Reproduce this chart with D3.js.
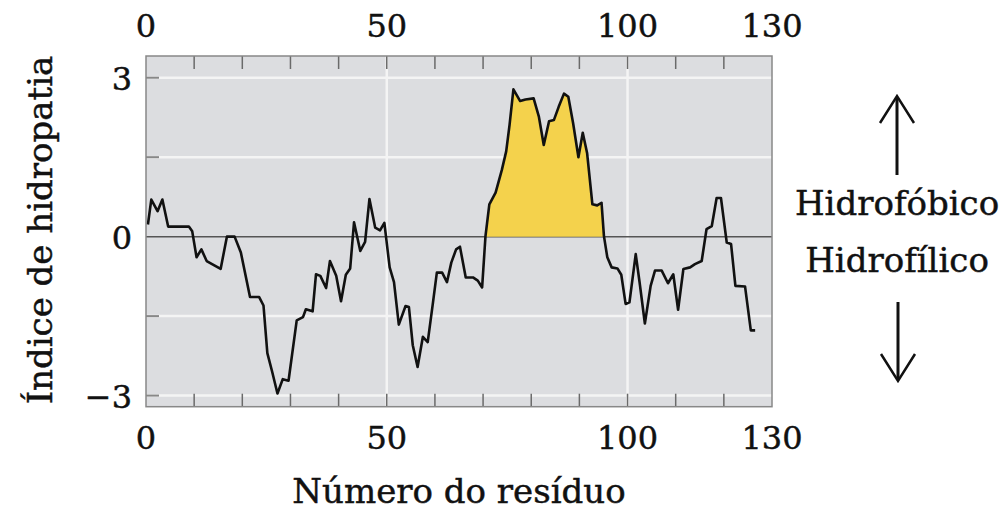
<!DOCTYPE html>
<html><head><meta charset="utf-8">
<script src="https://cdn.jsdelivr.net/npm/d3@7"></script>
<style>body{margin:0;background:#fff}svg{display:block}text{font-family:"DejaVu Serif",serif;fill:#111;stroke:#111;stroke-width:0.45}</style>
</head><body>
<script>
const residue = [0.4,1.1,2.4,3.4,4.6,8.9,9.6,10.5,11.5,12.6,15.5,16.8,18.4,19.7,21.6,23.5,24.4,25.2,26.2,27.3,28.4,29.6,31.3,32.6,33.2,34.6,35.3,36.2,37.4,38.2,39.5,40.5,41.5,42.4,43.2,44.5,45.5,46.4,47.6,48.6,49.5,50.6,51.5,52.5,53.9,54.6,55.4,56.4,57.5,58.5,59.6,60.4,61.5,62.5,63.4,64.4,65.2,66.4,67.9,68.9,69.8,70.5,71.3,72.6,73.9,74.8,75.5,76.3,77.7,78.8,80.5,81.6,82.6,83.7,84.7,85.7,86.8,87.7,88.7,89.8,90.7,91.6,92.7,93.7,94.6,95.1,95.8,96.7,97.9,98.7,99.6,100.4,101.7,102.5,103.6,104.8,105.7,107.1,108.4,109.5,110.5,111.6,113.0,114.0,115.4,116.4,117.5,118.5,119.4,120.6,121.5,122.4,124.4,125.6,126.5];
const hydropathy = [0.23,0.70,0.48,0.70,0.19,0.19,0.10,-0.39,-0.24,-0.46,-0.61,0,0,-0.30,-1.14,-1.14,-1.30,-2.2,-2.55,-2.96,-2.69,-2.72,-1.58,-1.52,-1.37,-1.41,-0.71,-0.74,-0.97,-0.46,-0.74,-1.22,-0.72,-0.60,0.27,-0.27,-0.10,0.71,0.17,0.12,0.26,-0.58,-0.86,-1.66,-1.31,-1.33,-2.05,-2.46,-1.89,-1.99,-1.24,-0.68,-0.68,-0.86,-0.49,-0.24,-0.19,-0.77,-0.77,-0.83,-0.96,0.01,0.61,0.83,1.26,1.61,2.11,2.78,2.56,2.59,2.61,2.26,1.73,2.18,2.20,2.45,2.70,2.64,2.14,1.50,1.96,1.58,0.61,0.59,0.64,0.01,-0.39,-0.58,-0.60,-0.72,-1.27,-1.24,-0.33,-0.86,-1.64,-0.93,-0.64,-0.64,-0.88,-0.71,-1.38,-0.61,-0.58,-0.52,-0.46,0.14,0.20,0.73,0.73,-0.11,-0.14,-0.93,-0.94,-1.77,-1.77];
const xTickLabels = [0,50,100,130];
const xMinorTicks = [10,20,30,40,50,60,70,80,90,100,110,120];
const yTickLabels = [3,0,-3];
const yGrid = [3,1.5,-1.5,-3];
const xGrid = [50,100];
const helixStart = 70.5, helixEnd = 95.1;
const labels = {x:"Número do resíduo", y:"Índice de hidropatia", up:"Hidrofóbico", down:"Hidrofílico"};

const W=1005,H=511;
const L=146,R=772,T=56,B=406.7;
const x=d3.scaleLinear().domain([0,130]).range([L,R]);
const y=d3.scaleLinear().domain([-3.21,3.41]).range([B,T]);
const svg=d3.select("body").append("svg").attr("width",W).attr("height",H);
const data=residue.map((r,i)=>({r,v:hydropathy[i]}));

svg.append("rect").attr("x",L).attr("y",T).attr("width",R-L).attr("height",B-T).attr("fill","#dcdde0");
svg.selectAll(".hg").data(yGrid).join("line").attr("x1",L).attr("x2",R).attr("y1",d=>y(d)).attr("y2",d=>y(d)).attr("stroke","#f4f4f4").attr("stroke-width",2.5);
svg.selectAll(".vg").data(xGrid).join("line").attr("y1",T).attr("y2",B).attr("x1",d=>x(d)).attr("x2",d=>x(d)).attr("stroke","#f4f4f4").attr("stroke-width",2.5);
svg.append("line").attr("x1",L).attr("x2",R).attr("y1",y(0)).attr("y2",y(0)).attr("stroke","#555").attr("stroke-width",1.5);
const fillData=data.filter(d=>d.r>=helixStart&&d.r<=helixEnd);
svg.append("path").datum(fillData).attr("fill","#f4d24c")
 .attr("d",d3.area().x(d=>x(d.r)).y0(y(0)).y1(d=>y(Math.max(0,d.v))));
svg.append("path").datum(data).attr("fill","none").attr("stroke","#111").attr("stroke-width",2.6).attr("stroke-linejoin","round")
 .attr("d",d3.line().x(d=>x(d.r)).y(d=>y(d.v)));
svg.selectAll(".tt").data(xMinorTicks).join("line").attr("x1",d=>x(d)).attr("x2",d=>x(d)).attr("y1",T).attr("y2",T+13).attr("stroke","#6a6a6a").attr("stroke-width",1.5);
svg.selectAll(".bt").data(xMinorTicks).join("line").attr("x1",d=>x(d)).attr("x2",d=>x(d)).attr("y1",B).attr("y2",B-13).attr("stroke","#6a6a6a").attr("stroke-width",1.5);
svg.selectAll(".lt").data(yGrid).join("line").attr("x1",L).attr("x2",L+13).attr("y1",d=>y(d)).attr("y2",d=>y(d)).attr("stroke","#888").attr("stroke-width",2);
svg.append("rect").attr("x",L).attr("y",T).attr("width",R-L).attr("height",B-T).attr("fill","none").attr("stroke","#888").attr("stroke-width",1.5);
const fs=32, ts=34;
svg.selectAll(".xl1").data(xTickLabels).join("text").attr("x",d=>x(d)).attr("y",37).attr("text-anchor","middle").attr("font-size",fs).text(d=>d);
svg.selectAll(".xl2").data(xTickLabels).join("text").attr("x",d=>x(d)).attr("y",449).attr("text-anchor","middle").attr("font-size",fs).text(d=>d);
svg.selectAll(".yl").data(yTickLabels).join("text").attr("x",132).attr("y",d=>y(d)+12).attr("text-anchor","end").attr("font-size",fs).text(d=>d<0?"\u2212"+(-d):d);
svg.append("text").attr("x",459).attr("y",503).attr("text-anchor","middle").attr("font-size",ts).text(labels.x);
svg.append("text").attr("transform","translate(52,230) rotate(-90)").attr("text-anchor","middle").attr("font-size",ts).text(labels.y);
const ax=897;
svg.append("text").attr("x",ax).attr("y",215).attr("text-anchor","middle").attr("font-size",ts).text(labels.up);
svg.append("text").attr("x",ax).attr("y",272).attr("text-anchor","middle").attr("font-size",ts).text(labels.down);
const arr=svg.append("g").attr("stroke","#111").attr("fill","none").attr("stroke-width",3);
arr.append("line").attr("x1",ax).attr("x2",ax).attr("y1",97).attr("y2",175);
arr.append("path").attr("d",`M${ax-17},${123} L${ax},${96} L${ax+17},${123}`).attr("stroke-width",2.5);
arr.append("line").attr("x1",ax+1).attr("x2",ax+1).attr("y1",302).attr("y2",380);
arr.append("path").attr("d",`M${ax-16},${354} L${ax+1},${381} L${ax+18},${354}`).attr("stroke-width",2.5);
</script>
</body></html>
